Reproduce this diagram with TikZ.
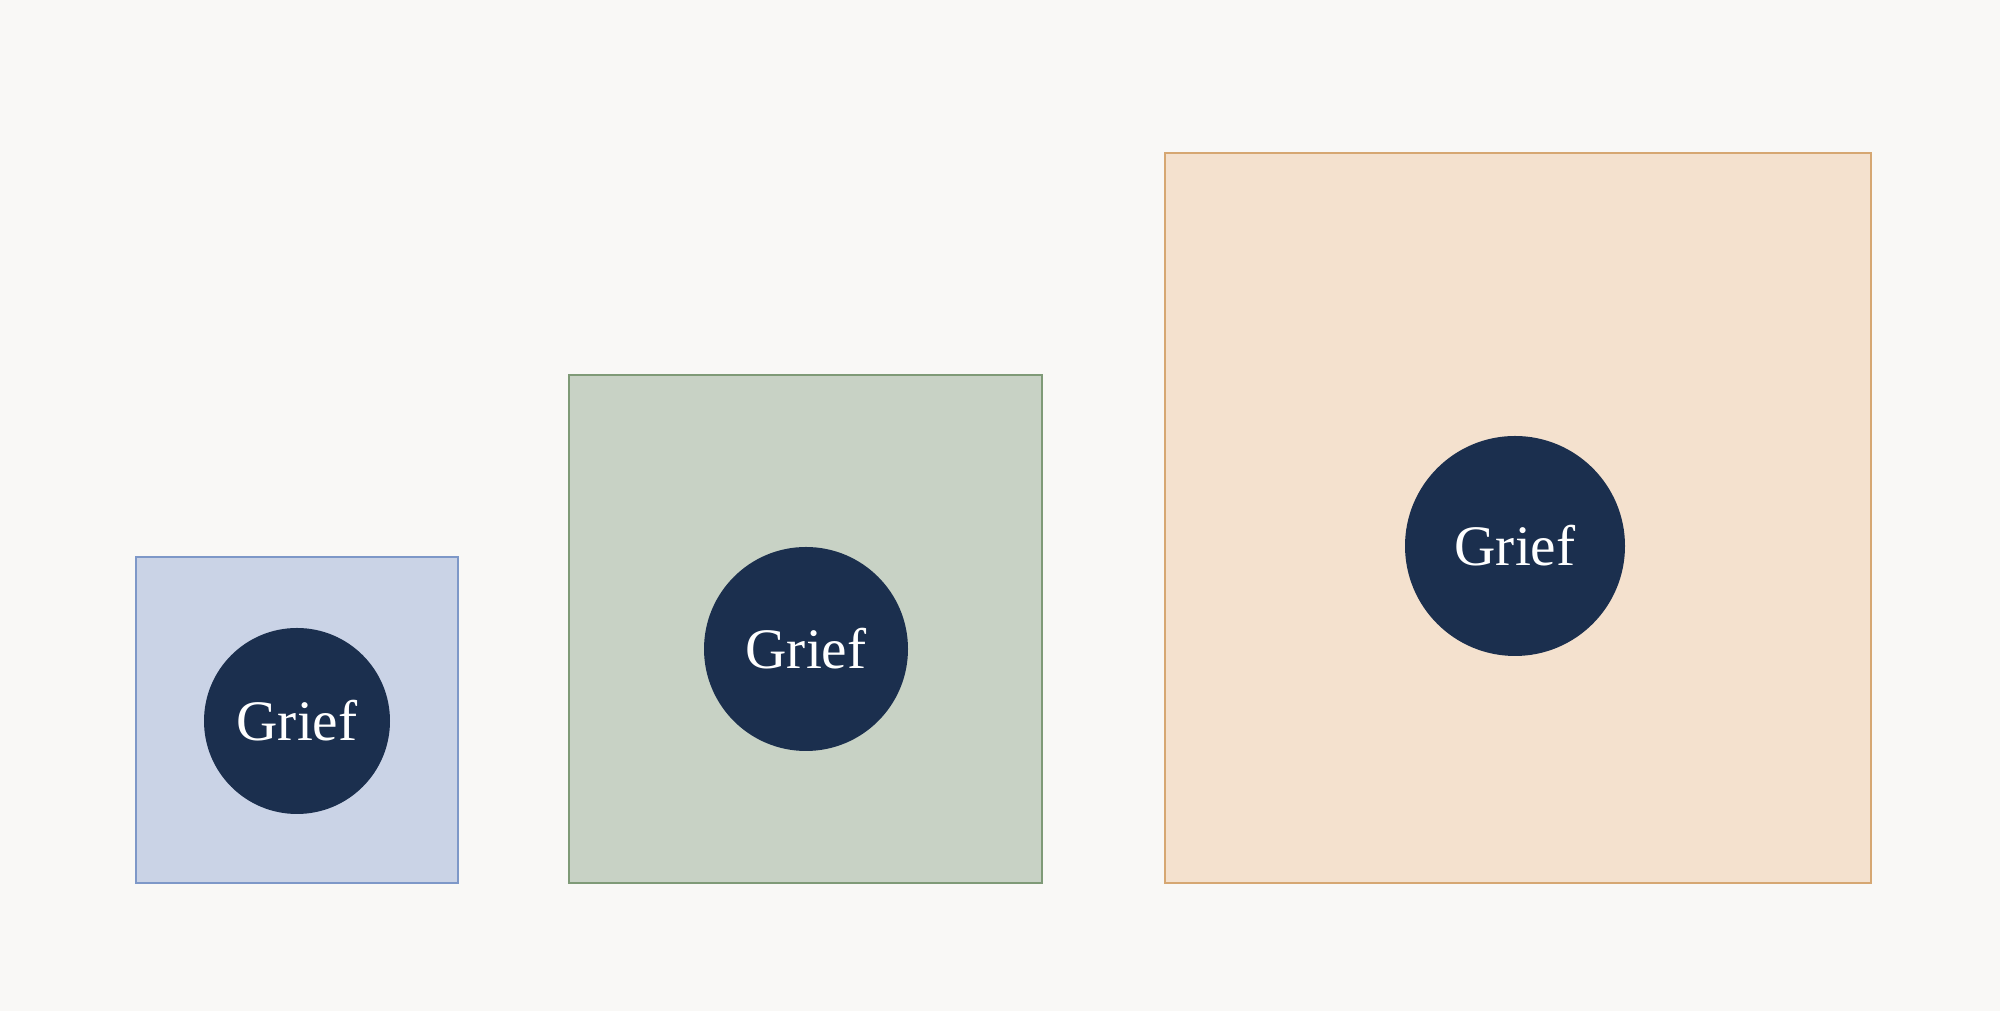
\documentclass[tikz,border=0pt]{standalone}
\usepackage{fontspec}
\setmainfont{Liberation Serif}
\usepackage{tikz}
\definecolor{bg}{HTML}{F9F8F6}
\definecolor{navy}{HTML}{1B2F4E}
\definecolor{blfill}{HTML}{CAD3E6}
\definecolor{bldraw}{HTML}{7E98C8}
\definecolor{grfill}{HTML}{C8D2C5}
\definecolor{grdraw}{HTML}{7F9A77}
\definecolor{orfill}{HTML}{F4E1CE}
\definecolor{ordraw}{HTML}{D6A772}

\begin{document}
\begin{tikzpicture}[box/.style={rectangle,line width=0.7pt,inner sep=0pt},
		griefc/.style={circle,fill=navy,text=white,inner sep=0pt,font=\fontsize{16.3}{18}\selectfont}]
		  \fill[bg] (0,0) rectangle (20,10.11);
		  \node[box,draw=bldraw,fill=blfill,minimum width=3.215cm,minimum height=3.26cm] (b_s) at (2.97,2.91) {};
		  \node[box,draw=grdraw,fill=grfill,minimum width=4.73cm,minimum height=5.08cm] (b_m) at (8.055,3.82) {};
		  \node[box,draw=ordraw,fill=orfill,minimum width=7.06cm,minimum height=7.30cm] (b_l) at (15.18,4.93) {};
		  \node[griefc,minimum size=1.86cm] (g_s) at (2.97,2.90) {Grief}; % small
		  \node[griefc,minimum size=2.04cm] (g_m) at (8.06,3.62) {Grief};
		  \node[griefc,minimum size=2.20cm] (g_l) at (15.15,4.65) {Grief};
		\end{tikzpicture}
\end{document}
